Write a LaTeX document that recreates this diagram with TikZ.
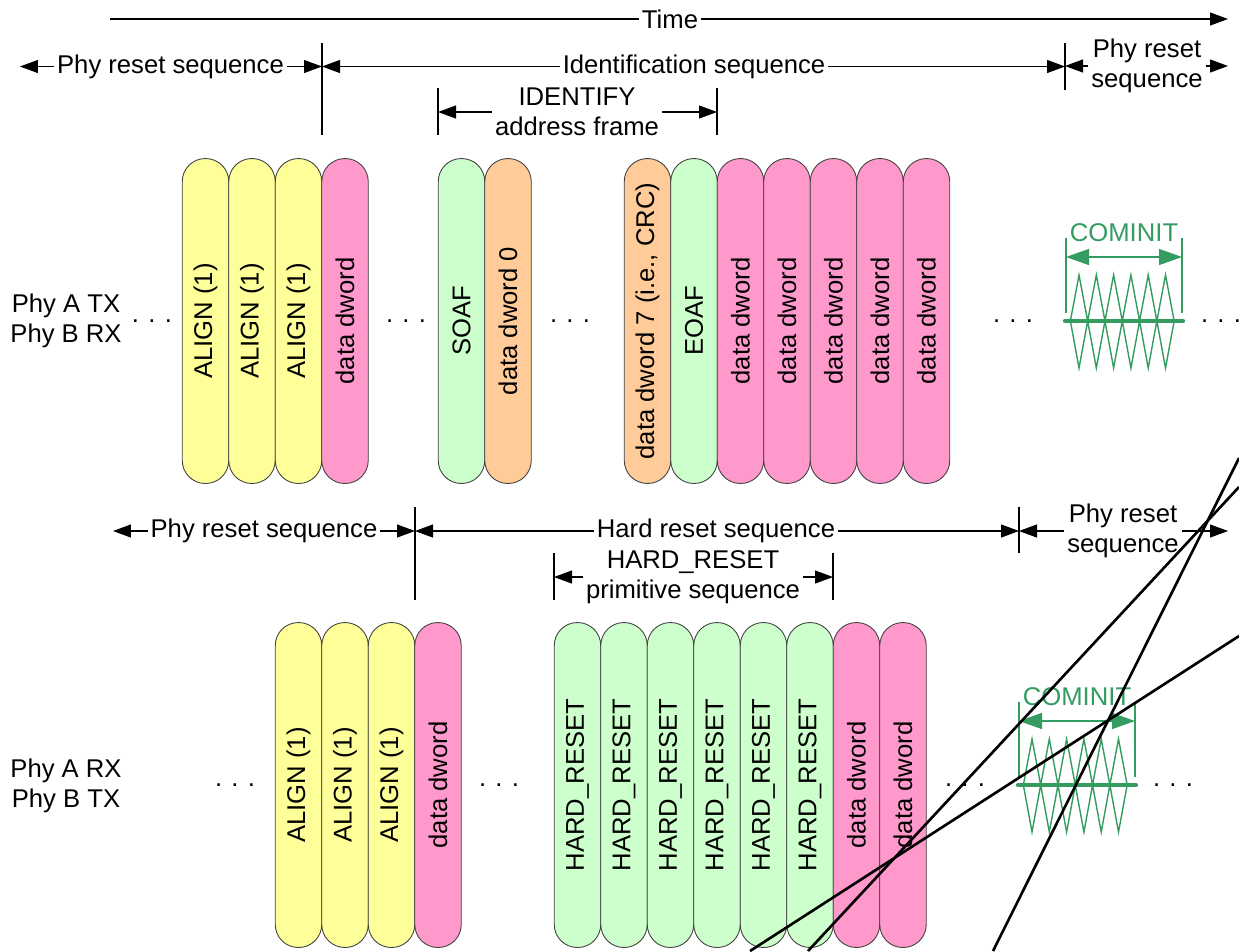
\documentclass[tikz,border=0pt]{standalone}
\usepackage{fontspec}
\setmainfont{Liberation Sans}
\usepackage{tikz}
\usetikzlibrary{arrows.meta}
\definecolor{yellowAlign}{RGB}{255,255,153}
\definecolor{pinkData}{RGB}{255,153,204}
\definecolor{greenPrim}{RGB}{204,255,204}
\definecolor{orangeFrame}{RGB}{255,204,153}
\definecolor{greenOob}{RGB}{52,156,96}

\tikzset{
  pill/.style={draw=black!75, line width=0.5pt, rounded corners=0.46cm,
               minimum width=0.93cm, minimum height=6.5cm, inner sep=0pt},
  lbl/.style={inner xsep=1.5pt, inner ysep=1pt, align=center},
  tickline/.style={line width=0.6pt},
  dimarrow/.style={line width=0.6pt, -{Triangle[length=0.36cm,width=0.26cm]}},
  ellip/.style={inner sep=0pt},
  oobtick/.style={greenOob, line width=0.9pt},
  oobarrow/.style={greenOob, line width=0.8pt,
                   {Triangle[length=0.46cm,width=0.32cm]}-{Triangle[length=0.46cm,width=0.32cm]}},
  oobline/.style={greenOob, line width=2.4pt, line cap=round},
  oobwave/.style={greenOob, line width=0.8pt},
  strikeline/.style={black, line width=1.5pt}
}

\begin{document}
\begin{tikzpicture}[x=0.02cm, y=-0.02cm, font=\fontsize{14.6}{17}\selectfont]
\useasboundingbox (0,0) rectangle (1239,951);

% Axe du temps
\node[lbl] (time) at (670,19) {Time};
\coordinate (timeStart) at (110,19);
\coordinate (timeEnd) at (1228,19);
\draw[tickline] (timeStart) -- (time);
\draw[dimarrow] (time) -- (timeEnd);

% Reperes ligne 1
\coordinate (tk1a) at (322,43);   \coordinate (tk1b) at (322,135);
\coordinate (tk2a) at (438,88);   \coordinate (tk2b) at (438,135);
\coordinate (tk3a) at (717,88);   \coordinate (tk3b) at (717,135);
\coordinate (tk4a) at (1065,43);  \coordinate (tk4b) at (1065,90);
\draw[tickline] (tk1a) -- (tk1b);
\draw[tickline] (tk2a) -- (tk2b);
\draw[tickline] (tk3a) -- (tk3b);
\draw[tickline] (tk4a) -- (tk4b);

% Sequences ligne 1
\node[lbl] (prsTop) at (170.5,66.5) {Phy reset sequence};
\coordinate (prsTopEnd) at (20,66.5);
\draw[dimarrow] (prsTop) -- (prsTopEnd);
\draw[dimarrow] (prsTop) -- (prsTop -| tk1a);

\node[lbl] (idSeq) at (694,66.5) {Identification sequence};
\draw[dimarrow] (idSeq) -- (idSeq -| tk1a);
\draw[dimarrow] (idSeq) -- (idSeq -| tk4a);

\node[lbl] (prsTopR) at (1147,66) {Phy reset\\sequence};
\coordinate (prsTopREnd) at (1228,66);
\draw[dimarrow] (prsTopR) -- (prsTopR -| tk4a);
\draw[dimarrow] (prsTopR) -- (prsTopREnd);

\node[lbl] (idFrame) at (577,112) {IDENTIFY\\address frame};
\draw[dimarrow] (idFrame) -- (idFrame -| tk2a);
\draw[dimarrow] (idFrame) -- (idFrame -| tk3a);

% Reperes ligne 2
\coordinate (tk5a) at (415,507);  \coordinate (tk5b) at (415,600);
\coordinate (tk6a) at (554,553);  \coordinate (tk6b) at (554,600);
\coordinate (tk7a) at (833,553);  \coordinate (tk7b) at (833,600);
\coordinate (tk8a) at (1019,507); \coordinate (tk8b) at (1019,553);
\draw[tickline] (tk5a) -- (tk5b);
\draw[tickline] (tk6a) -- (tk6b);
\draw[tickline] (tk7a) -- (tk7b);
\draw[tickline] (tk8a) -- (tk8b);

% Sequences ligne 2
\node[lbl] (prsBot) at (264,531) {Phy reset sequence};
\coordinate (prsBotEnd) at (113,531);
\draw[dimarrow] (prsBot) -- (prsBotEnd);
\draw[dimarrow] (prsBot) -- (prsBot -| tk5a);

\node[lbl] (hrSeq) at (716,531) {Hard reset sequence};
\draw[dimarrow] (hrSeq) -- (hrSeq -| tk5a);
\draw[dimarrow] (hrSeq) -- (hrSeq -| tk8a);

\node[lbl] (prsBotR) at (1123,531) {Phy reset\\sequence};
\coordinate (prsBotREnd) at (1228,531);
\draw[dimarrow] (prsBotR) -- (prsBotR -| tk8a);
\draw[dimarrow] (prsBotR) -- (prsBotREnd);

\node[lbl] (hrPrim) at (693,577) {HARD\_RESET\\primitive sequence};
\draw[dimarrow] (hrPrim) -- (hrPrim -| tk6a);
\draw[dimarrow] (hrPrim) -- (hrPrim -| tk7a);

% Phy A TX / Phy B RX
\node[lbl] (phyTx) at (66,321) {Phy A TX\\Phy B RX};
\node[ellip] (dtA1) at (152,321) {.\hspace{5.3pt}.\hspace{5.3pt}.};
\node[pill, fill=yellowAlign] (alA1) at (205.5,321) {\rotatebox{90}{ALIGN (1)}};
\node[pill, fill=yellowAlign] (alA2) at (252,321) {\rotatebox{90}{ALIGN (1)}};
\node[pill, fill=yellowAlign] (alA3) at (298.5,321) {\rotatebox{90}{ALIGN (1)}};
\node[pill, fill=pinkData] (ddA0) at (345,321) {\rotatebox{90}{data dword}};
\node[ellip] (dtA2) at (406,321) {.\hspace{5.3pt}.\hspace{5.3pt}.};
\node[pill, fill=greenPrim] (soaf) at (461.5,321) {\rotatebox{90}{SOAF}};
\node[pill, fill=orangeFrame] (dw0) at (508,321) {\rotatebox{90}{data dword 0}};
\node[ellip] (dtA3) at (570,321) {.\hspace{5.3pt}.\hspace{5.3pt}.};
\node[pill, fill=orangeFrame] (dw7) at (647.5,321) {\rotatebox{90}{data dword 7 (i.e., CRC)}};
\node[pill, fill=greenPrim] (eoaf) at (694,321) {\rotatebox{90}{EOAF}};
\node[pill, fill=pinkData] (ddA1) at (740.5,321) {\rotatebox{90}{data dword}};
\node[pill, fill=pinkData] (ddA2) at (787,321) {\rotatebox{90}{data dword}};
\node[pill, fill=pinkData] (ddA3) at (833.5,321) {\rotatebox{90}{data dword}};
\node[pill, fill=pinkData] (ddA4) at (880,321) {\rotatebox{90}{data dword}};
\node[pill, fill=pinkData] (ddA5) at (926.5,321) {\rotatebox{90}{data dword}};
\node[ellip] (dtA4) at (1013,321) {.\hspace{5.3pt}.\hspace{5.3pt}.};
\node[ellip] (dtA5) at (1221,321) {.\hspace{5.3pt}.\hspace{5.3pt}.};

% Phy A RX / Phy B TX
\node[lbl] (phyRx) at (66,786) {Phy A RX\\Phy B TX};
\node[ellip] (dtB1) at (235,785) {.\hspace{5.3pt}.\hspace{5.3pt}.};
\node[pill, fill=yellowAlign] (alB1) at (298.5,785) {\rotatebox{90}{ALIGN (1)}};
\node[pill, fill=yellowAlign] (alB2) at (345,785) {\rotatebox{90}{ALIGN (1)}};
\node[pill, fill=yellowAlign] (alB3) at (391.5,785) {\rotatebox{90}{ALIGN (1)}};
\node[pill, fill=pinkData] (ddB0) at (438,785) {\rotatebox{90}{data dword}};
\node[ellip] (dtB2) at (499,785) {.\hspace{5.3pt}.\hspace{5.3pt}.};
\node[pill, fill=greenPrim] (hr1) at (577.5,785) {\rotatebox{90}{HARD\_RESET}};
\node[pill, fill=greenPrim] (hr2) at (624,785) {\rotatebox{90}{HARD\_RESET}};
\node[pill, fill=greenPrim] (hr3) at (670.5,785) {\rotatebox{90}{HARD\_RESET}};
\node[pill, fill=greenPrim] (hr4) at (717,785) {\rotatebox{90}{HARD\_RESET}};
\node[pill, fill=greenPrim] (hr5) at (763.5,785) {\rotatebox{90}{HARD\_RESET}};
\node[pill, fill=greenPrim] (hr6) at (810,785) {\rotatebox{90}{HARD\_RESET}};
\node[pill, fill=pinkData] (ddB1) at (856.5,785) {\rotatebox{90}{data dword}};
\node[pill, fill=pinkData] (ddB2) at (903,785) {\rotatebox{90}{data dword}};
\node[ellip] (dtB3) at (965,785) {.\hspace{5.3pt}.\hspace{5.3pt}.};
\node[ellip] (dtB4) at (1173,785) {.\hspace{5.3pt}.\hspace{5.3pt}.};

% COMINIT
\foreach \cx/\cy/\nm in {1066/321/Top,1019/785/Bot}{
  \coordinate (ci\nm Lt) at (\cx,\cy-83);
  \coordinate (ci\nm Lb) at (\cx,\cy-8);
  \coordinate (ci\nm Rt) at (\cx+116,\cy-83);
  \coordinate (ci\nm Rb) at (\cx+116,\cy-8);
  \coordinate (ci\nm Al) at (\cx,\cy-64);
  \coordinate (ci\nm Ar) at (\cx+116,\cy-64);
  \coordinate (ci\nm Sl) at (\cx-1,\cy);
  \coordinate (ci\nm Sr) at (\cx+117,\cy);
  \draw[oobtick] (ci\nm Lt) -- (ci\nm Lb);
  \draw[oobtick] (ci\nm Rt) -- (ci\nm Rb);
  \node[lbl, text=greenOob] (ci\nm Txt) at (\cx+58,\cy-88) {COMINIT};
  \draw[oobarrow] (ci\nm Al) -- (ci\nm Ar);
  \draw[oobline] (ci\nm Sl) -- (ci\nm Sr);
  \draw[oobwave] (\cx+4.35,\cy)
    \foreach \k in {0,...,5}{ -- (\cx+13+17.3*\k,\cy-46) -- (\cx+21.65+17.3*\k,\cy) };
  \draw[oobwave] (\cx+4.35,\cy)
    \foreach \k in {0,...,5}{ -- (\cx+13+17.3*\k,\cy+47) -- (\cx+21.65+17.3*\k,\cy) };
}

% Traits barres
\coordinate (stA1) at (750,951);  \coordinate (stA2) at (1239,636);
\coordinate (stB1) at (808,951);  \coordinate (stB2) at (1239,487);
\coordinate (stC1) at (993,951);  \coordinate (stC2) at (1239,458);
\draw[strikeline] (stA1) -- (stA2);
\draw[strikeline] (stB1) -- (stB2);
\draw[strikeline] (stC1) -- (stC2);

\end{tikzpicture}
\end{document}
